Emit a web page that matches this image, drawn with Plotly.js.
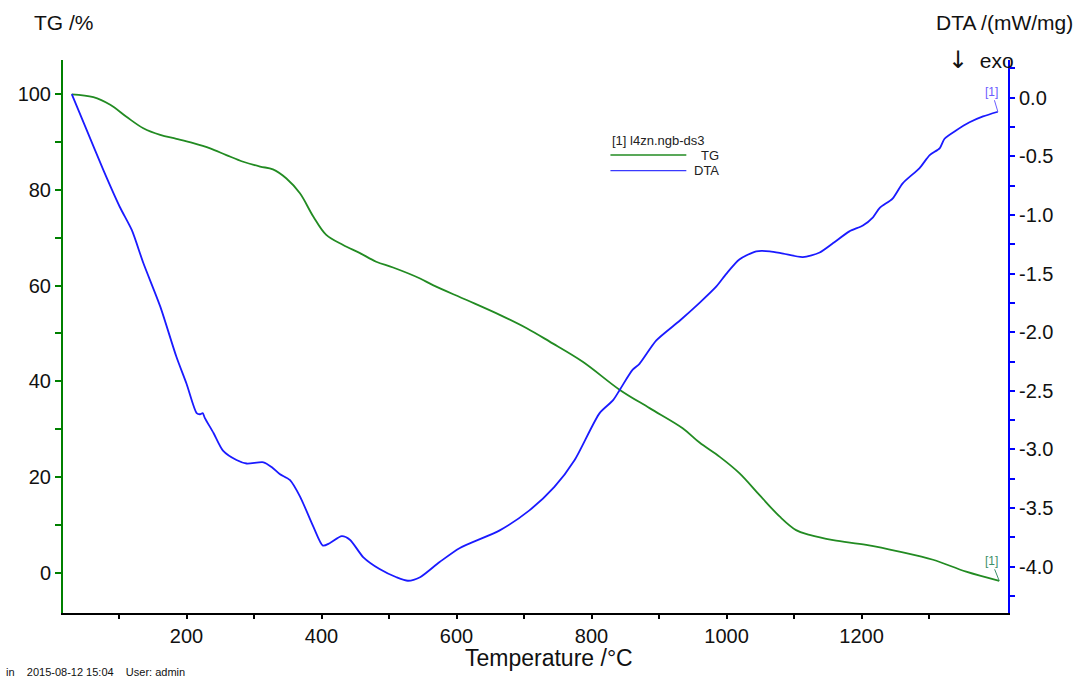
<!DOCTYPE html>
<html>
<head>
<meta charset="utf-8">
<script src="https://cdn.plot.ly/plotly-3.0.1.min.js"></script>
<style>html,body{margin:0;padding:0;background:#fff;}#chart{width:1086px;height:677px;}</style>
</head>
<body>
<div id="chart"></div>
<script>
// Temperature (°C) and TG (%)
var tempTG = [30,62,87,111,136,161,185,210,235,259,284,309,328,348,368,388,407,432,457,481,506,546,565,615,664,704,738,787,842,886,935,960,990,1019,1049,1079,1103,1123,1158,1207,1256,1306,1355,1404];
var tgValues = [100.0,99.4,97.8,95.3,92.9,91.5,90.7,89.8,88.7,87.3,85.9,84.9,84.3,82.4,79.3,74.4,70.6,68.5,66.8,65.0,63.8,61.5,60.1,57.0,53.9,51.1,48.3,44.1,38.2,34.4,30.2,27.2,24.2,20.8,16.2,11.7,8.9,7.9,6.8,5.8,4.4,2.7,0.2,-1.7];

// Temperature (°C) and DTA (mW/mg)
var tempDTA = [30,52,77,101,119,136,161,185,200,215,220,224,227,240,254,274,289,314,326,338,353,368,388,402,412,430,442,462,486,511,528,546,575,605,664,708,745,775,812,832,842,861,871,896,931,960,985,1000,1019,1044,1064,1084,1113,1138,1158,1182,1202,1217,1227,1246,1261,1286,1301,1316,1323,1340,1360,1380,1402];
var dtaValues = [0.03,-0.275,-0.62,-0.93,-1.13,-1.41,-1.78,-2.21,-2.44,-2.69,-2.70,-2.69,-2.73,-2.86,-3.01,-3.09,-3.12,-3.11,-3.15,-3.21,-3.26,-3.40,-3.66,-3.82,-3.80,-3.74,-3.77,-3.92,-4.02,-4.09,-4.12,-4.09,-3.96,-3.84,-3.69,-3.52,-3.32,-3.09,-2.69,-2.58,-2.49,-2.32,-2.27,-2.07,-1.90,-1.75,-1.61,-1.50,-1.38,-1.31,-1.31,-1.33,-1.36,-1.32,-1.24,-1.14,-1.09,-1.02,-0.94,-0.86,-0.73,-0.60,-0.49,-0.43,-0.35,-0.28,-0.21,-0.16,-0.12];

// Axis ticks
var xTicks = [200,400,600,800,1000,1200];
var xMinorTicks = [100,300,500,700,900,1100,1300];
var tgTicks = [0,20,40,60,80,100];
var dtaTicks = [-4.0,-3.5,-3.0,-2.5,-2.0,-1.5,-1.0,-0.5,0.0];

var seriesNames = ['TG','DTA'];
var sampleName = '[1] l4zn.ngb-ds3';

var FONT = 'Liberation Sans, Arial, sans-serif';
var GREEN_LINE = '#228b22';
var BLUE_LINE = '#1a1aff';

var traces = [
  {x: tempTG, y: tgValues, name: seriesNames[0], type: 'scatter', mode: 'lines',
   line: {color: GREEN_LINE, width: 1.8, shape: 'spline', smoothing: 1.0}, yaxis: 'y'},
  {x: tempDTA, y: dtaValues, name: seriesNames[1], type: 'scatter', mode: 'lines',
   line: {color: BLUE_LINE, width: 1.8, shape: 'spline', smoothing: 0.7}, yaxis: 'y2'}
];

var lastTG = tempTG.length - 1, lastDTA = tempDTA.length - 1;

var layout = {
  width: 1086, height: 677,
  margin: {l: 63, r: 77.5, t: 60, b: 64, pad: 0},
  paper_bgcolor: '#fff', plot_bgcolor: '#fff',
  showlegend: false,
  font: {family: FONT, color: '#111'},
  xaxis: {
    range: [17, 1417], showgrid: false, zeroline: false,
    showline: true, linecolor: '#000', linewidth: 2,
    ticks: 'outside', ticklen: 4, tickwidth: 2, tickcolor: '#000',
    tickmode: 'array', tickvals: xTicks, ticktext: xTicks.map(String),
    tickfont: {size: 20, family: FONT, color: '#111'},
    minor: {tickmode: 'array', tickvals: xMinorTicks, ticks: 'outside', ticklen: 4, tickwidth: 2, tickcolor: '#000', showgrid: false}
  },
  yaxis: {
    range: [-8.43, 107.17], showgrid: false, zeroline: false,
    showline: true, linecolor: '#008000', linewidth: 2,
    ticks: 'outside', ticklen: 6, tickwidth: 2, tickcolor: '#008000',
    tickmode: 'array', tickvals: tgTicks, ticktext: tgTicks.map(String),
    tickfont: {size: 20, family: FONT, color: '#111'},
    minor: {dtick: 10, tick0: 0, ticks: 'outside', ticklen: 6, tickwidth: 2, tickcolor: '#008000', showgrid: false}
  },
  yaxis2: {
    range: [-4.395, 0.3215], overlaying: 'y', side: 'right', anchor: 'x',
    showgrid: false, zeroline: false,
    showline: true, linecolor: '#0000ff', linewidth: 2,
    ticks: 'outside', ticklen: 5, tickwidth: 2, tickcolor: '#0000ff',
    tickmode: 'array', tickvals: dtaTicks, ticktext: dtaTicks.map(function(v){return v.toFixed(1);}),
    tickfont: {size: 20, family: FONT, color: '#111'},
    minor: {dtick: 0.25, tick0: 0, ticks: 'outside', ticklen: 5, tickwidth: 2, tickcolor: '#0000ff', showgrid: false}
  },
  shapes: [
    {type: 'line', xref: 'paper', yref: 'paper', x0: 0.5793, x1: 0.6596, y0: 0.8282, y1: 0.8282, line: {color: GREEN_LINE, width: 1.3}},
    {type: 'line', xref: 'paper', yref: 'paper', x0: 0.5793, x1: 0.6596, y0: 0.7998, y1: 0.7998, line: {color: '#3a3aff', width: 1.3}}
  ],
  annotations: [
    {text: 'TG /%', xref: 'paper', yref: 'paper', x: -0.0328, y: 1.0687, xanchor: 'left', yanchor: 'middle', showarrow: false, font: {size: 21, family: FONT, color: '#111'}},
    {text: 'DTA /(mW/mg)', xref: 'paper', yref: 'paper', x: 0.9218, y: 1.0687, xanchor: 'left', yanchor: 'middle', showarrow: false, font: {size: 21, family: FONT, color: '#111'}},
    {text: '<span style="font-family:DejaVu Sans;font-size:24px">↓</span>  exo', xref: 'paper', yref: 'paper', x: 0.9345, y: 1.0, xanchor: 'left', yanchor: 'middle', showarrow: false, font: {size: 21, family: FONT, color: '#111'}},
    {text: 'Temperature /°C', xref: 'paper', yref: 'paper', x: 0.5148, y: -0.0814, xanchor: 'center', yanchor: 'middle', showarrow: false, font: {size: 23, family: FONT, color: '#111'}},
    {text: 'in    2015-08-12 15:04    User: admin', xref: 'paper', yref: 'paper', x: -0.0624, y: -0.1067, xanchor: 'left', yanchor: 'middle', showarrow: false, font: {size: 11, family: FONT, color: '#111'}},
    {text: sampleName, xref: 'paper', yref: 'paper', x: 0.5793, y: 0.8553, xanchor: 'left', yanchor: 'middle', showarrow: false, font: {size: 13, family: FONT, color: '#222'}},
    {text: seriesNames[0], xref: 'paper', yref: 'paper', x: 0.6966, y: 0.8282, xanchor: 'right', yanchor: 'middle', showarrow: false, font: {size: 13, family: FONT, color: '#222'}},
    {text: seriesNames[1], xref: 'paper', yref: 'paper', x: 0.6966, y: 0.7998, xanchor: 'right', yanchor: 'middle', showarrow: false, font: {size: 13, family: FONT, color: '#222'}},
    {text: '[1]', xref: 'x', yref: 'y', x: tempTG[lastTG], y: tgValues[lastTG], ax: -8, ay: -20,
     showarrow: true, arrowhead: 0, arrowwidth: 1, arrowcolor: '#3c8f6a', standoff: 0, font: {size: 12, family: FONT, color: '#3c8f6a'}},
    {text: '[1]', xref: 'x', yref: 'y2', x: tempDTA[lastDTA], y: dtaValues[lastDTA], ax: -6, ay: -20,
     showarrow: true, arrowhead: 0, arrowwidth: 1, arrowcolor: '#6a5cff', standoff: 0, font: {size: 12, family: FONT, color: '#6a5cff'}}
  ]
};

Plotly.newPlot('chart', traces, layout, {staticPlot: true, displayModeBar: false});
</script>
</body>
</html>
